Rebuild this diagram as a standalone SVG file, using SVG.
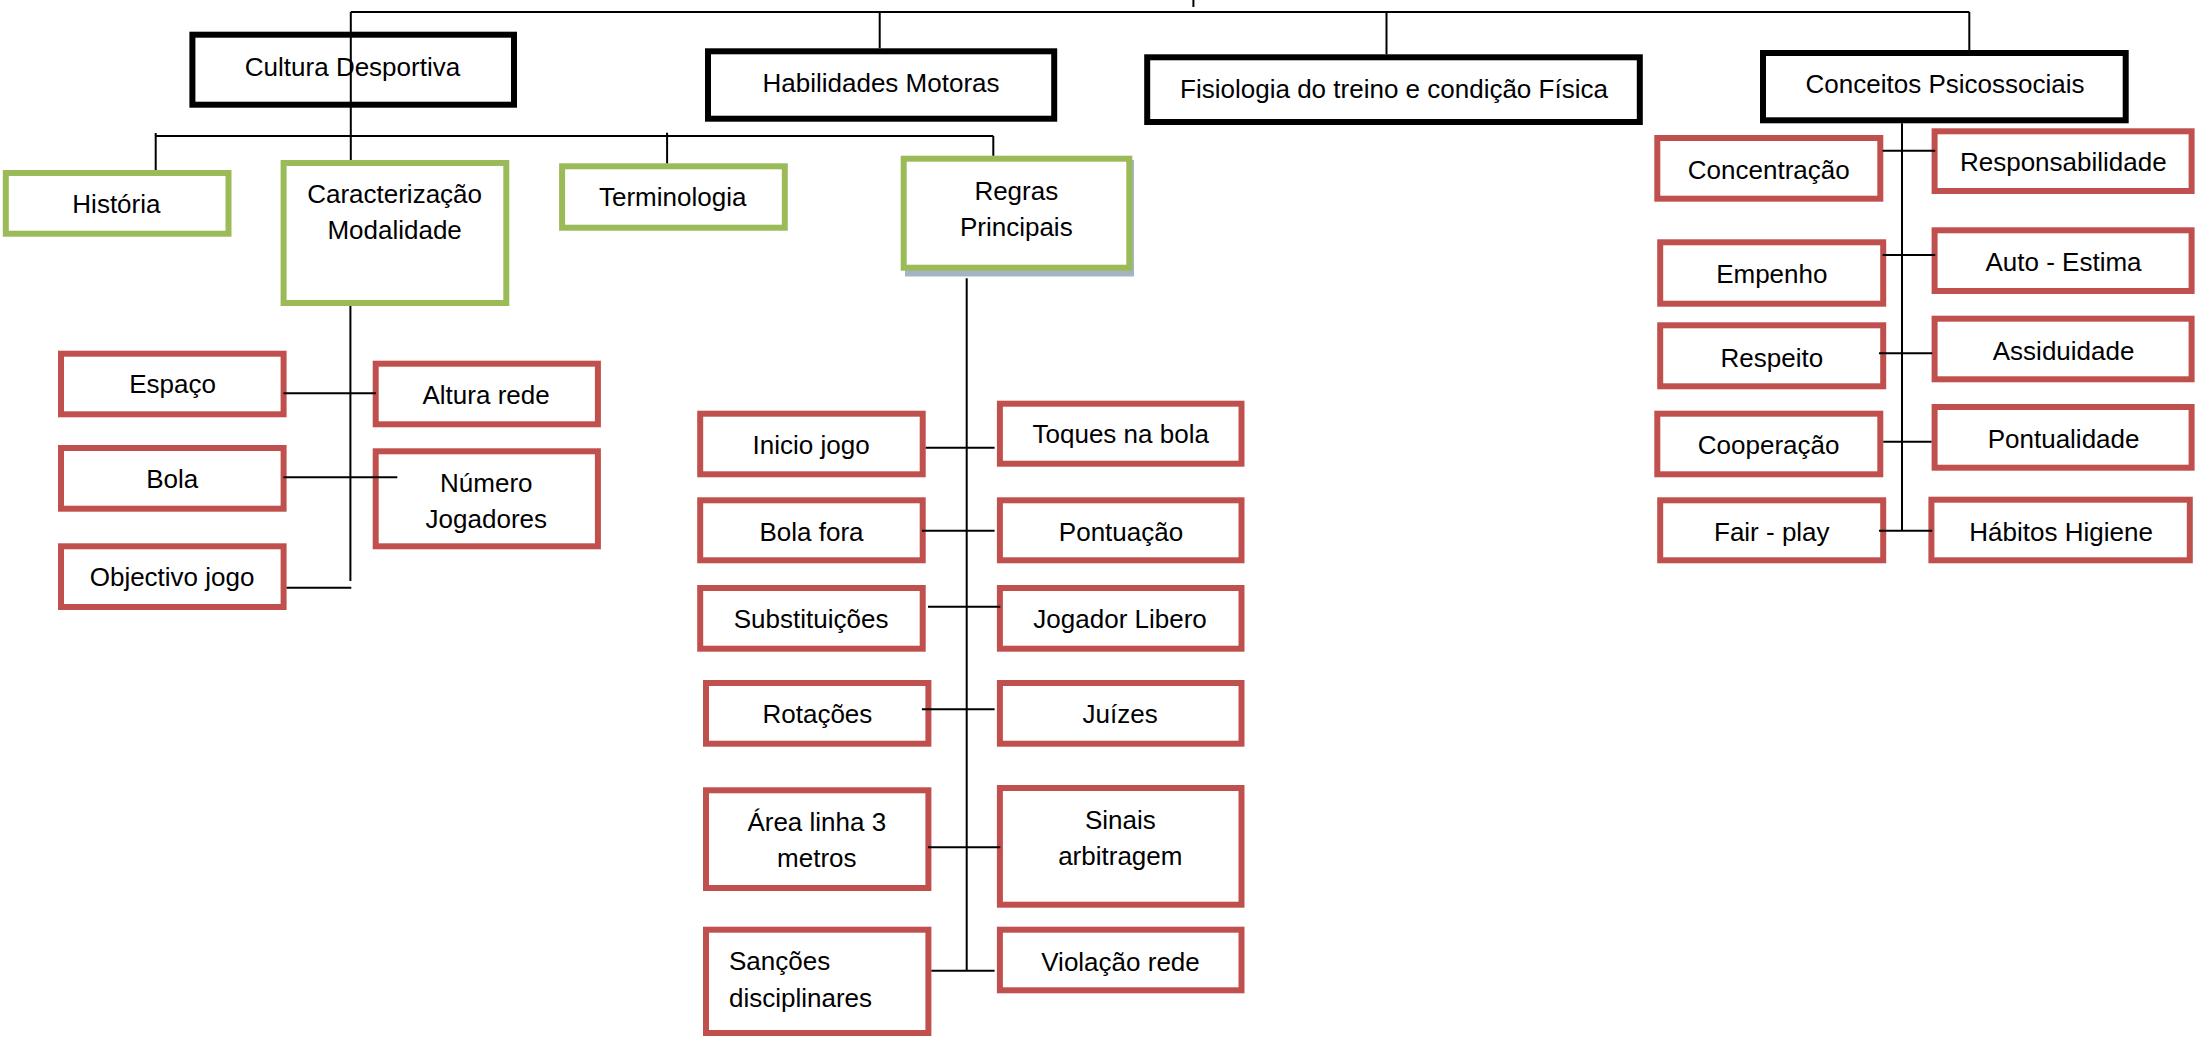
<svg xmlns="http://www.w3.org/2000/svg" width="2201" height="1041" viewBox="0 0 2201 1041">
<style>
.nb{fill:#fff;stroke:#000;stroke-width:6}
.ng{fill:#fff;stroke:#9BBB59;stroke-width:6}
.nr{fill:#fff;stroke:#C0504D;stroke-width:6}
text{font-family:"Liberation Sans",Arial,sans-serif;font-size:26px;fill:#000;text-anchor:middle}
.l{text-anchor:start}
.c line{stroke:#000;stroke-width:2}
</style>
<rect width="2201" height="1041" fill="#fff"/>
<g id="cultura"><rect class="nb" x="192.4" y="34.7" width="321.6" height="70"/><text x="352.5" y="76">Cultura Desportiva</text></g>
<g id="habilidades"><rect class="nb" x="708" y="51.3" width="346.2" height="67.4"/><text x="881" y="92">Habilidades Motoras</text></g>
<g id="fisiologia"><rect class="nb" x="1147.2" y="57.3" width="492.6" height="64.7"/><text x="1394" y="98">Fisiologia do treino e condição Física</text></g>
<g id="conceitos"><rect class="nb" x="1763" y="53" width="362.7" height="67.3"/><text x="1945" y="93">Conceitos Psicossociais</text></g>
<g id="historia"><rect class="ng" x="5.8" y="173" width="222.7" height="60.7"/><text x="116.4" y="213">História</text></g>
<g id="caracterizacao"><rect class="ng" x="283.6" y="163" width="222.7" height="140"/><text x="394.6" y="203">Caracterização</text><text x="394.6" y="239">Modalidade</text></g>
<g id="terminologia"><rect class="ng" x="562.1" y="166.3" width="222.7" height="61.4"/><text x="672.7" y="206">Terminologia</text></g>
<g id="regras"><rect x="905" y="160" width="229" height="116.5" fill="#a3b4c4"/><rect class="ng" x="903.7" y="158.7" width="225.6" height="109"/><text x="1016.3" y="200">Regras</text><text x="1016.3" y="236">Principais</text></g>
<g id="espaco"><rect class="nr" x="61" y="353.7" width="222.6" height="60.6"/><text x="172.5" y="393">Espaço</text></g>
<g id="altura"><rect class="nr" x="375.7" y="363.7" width="222.2" height="60.6"/><text x="486.1" y="404">Altura rede</text></g>
<g id="bola"><rect class="nr" x="61" y="448" width="222.6" height="60.7"/><text x="172.3" y="488">Bola</text></g>
<g id="numero"><rect class="nr" x="375.7" y="451.3" width="222.2" height="95"/><text x="486.3" y="491.7">Número</text><text x="486.3" y="527.7">Jogadores</text></g>
<g id="objectivo"><rect class="nr" x="61" y="546.3" width="222.6" height="60.7"/><text x="172.1" y="586">Objectivo jogo</text></g>
<g id="inicio"><rect class="nr" x="700.2" y="413.7" width="222.5" height="60.6"/><text x="811.1" y="454">Inicio jogo</text></g>
<g id="toques"><rect class="nr" x="999.9" y="403.7" width="241.6" height="60"/><text x="1120.7" y="443">Toques na bola</text></g>
<g id="bolafora"><rect class="nr" x="700.2" y="500.3" width="222.5" height="60"/><text x="811.5" y="540.7">Bola fora</text></g>
<g id="pontuacao"><rect class="nr" x="999.9" y="500.3" width="241.6" height="60"/><text x="1121" y="540.7">Pontuação</text></g>
<g id="substituicoes"><rect class="nr" x="700.2" y="588" width="222.5" height="60.7"/><text x="811.1" y="628.3">Substituições</text></g>
<g id="libero"><rect class="nr" x="999.9" y="588" width="241.6" height="60.7"/><text x="1120.1" y="628.3">Jogador Libero</text></g>
<g id="rotacoes"><rect class="nr" x="706" y="683" width="222.4" height="60.7"/><text x="817.4" y="723.3">Rotações</text></g>
<g id="juizes"><rect class="nr" x="999.9" y="683" width="241.6" height="60.7"/><text x="1120.1" y="723.3">Juízes</text></g>
<g id="area"><rect class="nr" x="706" y="790.3" width="222.4" height="97.7"/><text x="816.8" y="830.7">Área linha 3</text><text x="816.8" y="866.7">metros</text></g>
<g id="sinais"><rect class="nr" x="999.9" y="788" width="241.6" height="116.7"/><text x="1120.3" y="829">Sinais</text><text x="1120.3" y="865">arbitragem</text></g>
<g id="sancoes"><rect class="nr" x="706" y="929.7" width="222.4" height="103.3"/><text class="l" x="729" y="970">Sanções</text><text class="l" x="729" y="1006.7">disciplinares</text></g>
<g id="violacao"><rect class="nr" x="999.9" y="929.7" width="241.6" height="60.6"/><text x="1120.5" y="970.7">Violação rede</text></g>
<g id="concentracao"><rect class="nr" x="1657.3" y="138" width="223" height="60.7"/><text x="1768.8" y="179.3">Concentração</text></g>
<g id="empenho"><rect class="nr" x="1660.2" y="242.3" width="223" height="61.4"/><text x="1771.8" y="283.3">Empenho</text></g>
<g id="respeito"><rect class="nr" x="1660.2" y="325.3" width="223" height="61"/><text x="1771.8" y="366.7">Respeito</text></g>
<g id="cooperacao"><rect class="nr" x="1657.3" y="413.7" width="223" height="60.6"/><text x="1768.6" y="454">Cooperação</text></g>
<g id="fairplay"><rect class="nr" x="1660.2" y="500.3" width="223" height="60"/><text x="1771.8" y="540.7">Fair - play</text></g>
<g id="responsabilidade"><rect class="nr" x="1934.6" y="131.3" width="257" height="59.7"/><text x="2063.3" y="170.7">Responsabilidade</text></g>
<g id="autoestima"><rect class="nr" x="1934.6" y="230.3" width="257" height="60.7"/><text x="2063.5" y="270.7">Auto - Estima</text></g>
<g id="assiduidade"><rect class="nr" x="1934.6" y="318.7" width="257" height="60.6"/><text x="2063.6" y="360">Assiduidade</text></g>
<g id="pontualidade"><rect class="nr" x="1934.6" y="407" width="257" height="60.7"/><text x="2063.6" y="448.3">Pontualidade</text></g>
<g id="habitos"><rect class="nr" x="1931.4" y="499.7" width="258.4" height="60.6"/><text x="2061.1" y="541">Hábitos Higiene</text></g>
<g id="connectors" class="c">
<line x1="350.8" y1="12" x2="1969.3" y2="12"/>
<line x1="1193.4" y1="0" x2="1193.4" y2="7"/>
<line x1="350.8" y1="12" x2="350.8" y2="160"/>
<line x1="879.7" y1="12" x2="879.7" y2="48.3"/>
<line x1="1386.5" y1="12" x2="1386.5" y2="54.3"/>
<line x1="1969.3" y1="12" x2="1969.3" y2="50"/>
<line x1="155.7" y1="136" x2="993.3" y2="136"/>
<line x1="155.7" y1="133" x2="155.7" y2="170"/>
<line x1="667.1" y1="132.7" x2="667.1" y2="163.3"/>
<line x1="993.3" y1="136" x2="993.3" y2="155.7"/>
<line x1="350.4" y1="306" x2="350.4" y2="581"/>
<line x1="283.5" y1="393.3" x2="375.9" y2="393.3"/>
<line x1="283.5" y1="477.3" x2="397.3" y2="477.3"/>
<line x1="286.6" y1="587.7" x2="351.3" y2="587.7"/>
<line x1="966.7" y1="278.3" x2="966.7" y2="970.7"/>
<line x1="925.7" y1="447.7" x2="994.6" y2="447.7"/>
<line x1="921.9" y1="530.7" x2="994.6" y2="530.7"/>
<line x1="928" y1="606.7" x2="1000.3" y2="606.7"/>
<line x1="921.9" y1="709.3" x2="994.6" y2="709.3"/>
<line x1="928" y1="847.3" x2="1000.3" y2="847.3"/>
<line x1="931.4" y1="970.7" x2="994.6" y2="970.7"/>
<line x1="1902" y1="123.3" x2="1902" y2="530.7"/>
<line x1="1882.6" y1="150.7" x2="1935.2" y2="150.7"/>
<line x1="1882.6" y1="255" x2="1935.2" y2="255"/>
<line x1="1879" y1="353.3" x2="1932.3" y2="353.3"/>
<line x1="1883.3" y1="441.7" x2="1931.6" y2="441.7"/>
<line x1="1879" y1="530.7" x2="1932.3" y2="530.7"/>
</g>
</svg>
